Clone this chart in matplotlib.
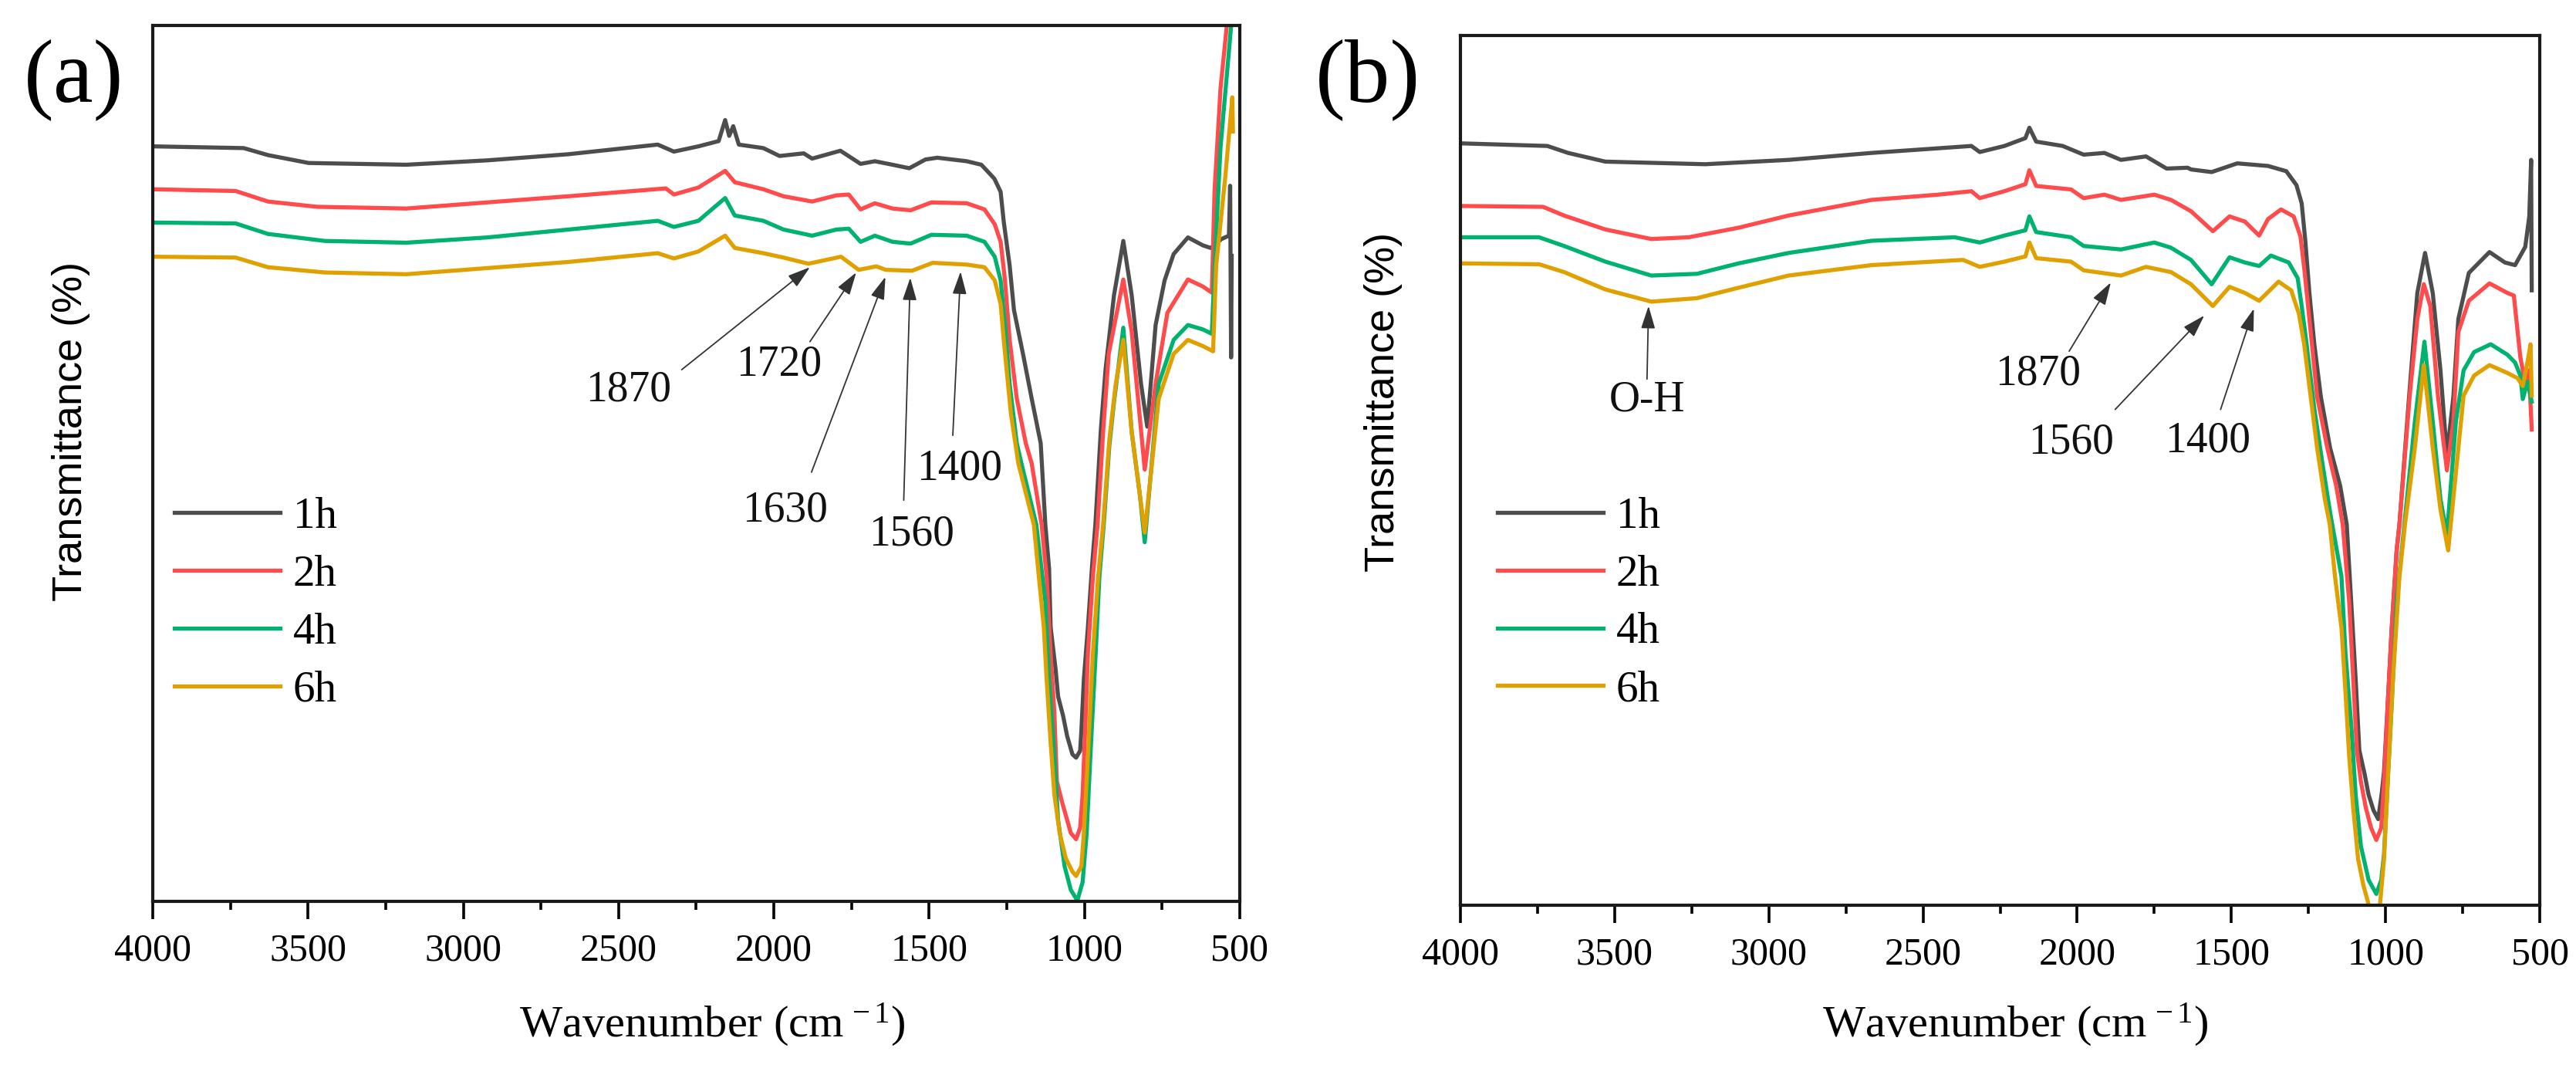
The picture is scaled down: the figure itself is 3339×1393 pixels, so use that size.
import matplotlib
matplotlib.use("Agg")
import matplotlib.pyplot as plt
from matplotlib.ticker import MultipleLocator

plt.rcParams['font.family'] = ['Liberation Serif', 'DejaVu Serif']
plt.rcParams['mathtext.fontset'] = 'custom'
plt.rcParams['mathtext.rm'] = 'Liberation Serif'
plt.rcParams['mathtext.it'] = 'Liberation Serif:italic'

# ---------------- data: panel (a) ----------------
a_1h_w = [4000, 3707, 3629, 3498, 3184, 2923, 2662, 2374, 2322, 2243, 2178, 2157, 2144, 2131, 2113,
          2034, 1982, 1904, 1877, 1786, 1721, 1675, 1618, 1564, 1512, 1474, 1379, 1332, 1290, 1270,
          1260, 1241, 1227, 1198, 1170, 1141, 1126, 1114, 1109, 1093, 1085, 1069, 1056, 1039, 1027,
          1014, 1010, 1002, 989, 975, 965, 947, 932, 905, 875, 848, 818, 798, 771, 742, 713, 667,
          619, 594, 581, 560, 535, 531, 528, 526]
a_1h_t = [86.2, 86.0, 85.2, 84.3, 84.1, 84.6, 85.3, 86.4, 85.6, 86.2, 86.8, 89.2, 87.4, 88.5, 86.4,
          86.0, 85.1, 85.4, 84.8, 85.7, 84.2, 84.5, 84.1, 83.7, 84.7, 84.9, 84.5, 84.1, 82.5, 81.0,
          77.6, 72.6, 67.5, 62.5, 57.4, 52.3, 43.0, 38.0, 31.3, 26.5, 23.4, 21.2, 18.9, 16.8, 16.4,
          17.2, 19.5, 25.4, 31.3, 38.6, 43.0, 54.0, 60.8, 69.2, 75.4, 69.2, 59.1, 54.2, 65.8, 70.9,
          73.9, 75.8, 74.9, 74.6, 74.9, 75.6, 76.0, 81.7, 62.1, 73.7]

a_2h_w = [4000, 3733, 3629, 3472, 3184, 2923, 2662, 2348, 2322, 2243, 2157, 2126, 2034, 1969, 1877,
          1799, 1759, 1721, 1675, 1618, 1560, 1493, 1379, 1322, 1289, 1270, 1256, 1241, 1218, 1189,
          1170, 1138, 1122, 1109, 1097, 1089, 1072, 1056, 1044, 1027, 1014, 1006, 998, 989, 973,
          958, 940, 922, 875, 848, 822, 806, 771, 733, 667, 619, 590, 581, 562, 542, 530]
a_2h_t = [81.3, 81.1, 79.9, 79.3, 79.1, 79.8, 80.5, 81.4, 80.7, 81.5, 83.4, 82.1, 81.3, 80.5, 79.9,
          80.6, 80.7, 79.0, 79.7, 79.1, 78.9, 79.8, 79.7, 79.0, 77.3, 75.3, 70.9, 64.1, 57.4, 52.3,
          50.0, 43.0, 37.1, 28.3, 21.6, 13.7, 11.3, 9.3, 7.8, 7.1, 8.4, 12.2, 19.5, 28.3, 37.1,
          43.0, 53.6, 62.5, 71.0, 65.0, 55.3, 49.3, 59.1, 67.2, 71.0, 70.2, 69.5, 81.3, 92.8, 99.9, 106.4]

a_4h_w = [4000, 3733, 3629, 3446, 3184, 2923, 2662, 2374, 2322, 2243, 2157, 2126, 2034, 1969, 1877,
          1799, 1759, 1721, 1675, 1618, 1560, 1493, 1379, 1322, 1289, 1270, 1256, 1241, 1218, 1203,
          1155, 1126, 1114, 1097, 1085, 1064, 1044, 1023, 1006, 993, 981, 964, 952, 938, 920, 905,
          875, 848, 822, 806, 761, 713, 667, 619, 590, 581, 562, 528, 522]
a_4h_t = [77.5, 77.4, 76.2, 75.4, 75.2, 75.8, 76.7, 77.7, 77.0, 77.7, 80.3, 78.3, 77.7, 76.7, 76.0,
          76.7, 76.8, 75.3, 76.0, 75.3, 75.1, 76.1, 76.0, 75.3, 73.6, 70.9, 65.8, 59.1, 52.3, 50.0,
          43.0, 34.2, 25.4, 16.6, 9.3, 4.0, 1.3, 0.1, 2.2, 7.8, 16.6, 28.3, 37.1, 43.0, 52.0, 57.0,
          65.5, 53.6, 46.5, 41.0, 59.1, 64.1, 65.8, 65.3, 64.8, 72.6, 86.1, 99.9, 105.6]

a_6h_w = [4000, 3733, 3629, 3446, 3184, 2923, 2662, 2374, 2322, 2243, 2157, 2126, 2034, 1969, 1889,
          1784, 1727, 1670, 1640, 1555, 1489, 1379, 1322, 1289, 1270, 1260, 1251, 1237, 1213, 1163,
          1147, 1131, 1122, 1109, 1097, 1080, 1060, 1039, 1027, 1010, 1002, 989, 973, 956, 940, 920,
          900, 875, 848, 822, 806, 761, 713, 667, 619, 586, 576, 547, 524, 522]
a_6h_t = [73.6, 73.5, 72.4, 71.8, 71.6, 72.3, 73.0, 74.0, 73.4, 74.2, 76.0, 74.6, 74.0, 73.5, 72.8,
          73.6, 72.1, 72.5, 72.1, 72.0, 72.9, 72.7, 72.4, 70.9, 68.2, 64.1, 60.8, 55.7, 50.0, 43.0,
          37.1, 31.3, 25.4, 18.1, 12.2, 7.8, 4.9, 3.4, 2.9, 4.0, 7.8, 16.6, 28.3, 37.1, 43.0, 52.7,
          58.9, 64.1, 53.6, 46.5, 42.1, 57.4, 62.5, 64.1, 63.4, 62.8, 72.6, 82.6, 91.8, 87.9]

# ---------------- data: panel (b) ----------------
b_1h_w = [3999, 3718, 3651, 3530, 3206, 2936, 2667, 2343, 2316, 2236, 2168, 2155, 2133, 2047, 1979,
          1912, 1858, 1777, 1710, 1642, 1631, 1564, 1481, 1381, 1322, 1289, 1272, 1260, 1247, 1231,
          1210, 1180, 1147, 1126, 1110, 1097, 1085, 1068, 1055, 1039, 1024, 1012, 1005, 993, 980,
          964, 955, 925, 897, 872, 847, 822, 801, 780, 764, 730, 663, 613, 580, 547, 534, 528, 526]
b_1h_t = [87.6, 87.3, 86.5, 85.5, 85.2, 85.7, 86.5, 87.3, 86.6, 87.3, 88.2, 89.4, 87.8, 87.3, 86.3,
          86.5, 85.7, 86.1, 84.7, 84.8, 84.6, 84.3, 85.3, 85.0, 84.4, 82.8, 80.7, 76.3, 70.4, 64.5,
          58.5, 52.6, 48.2, 43.8, 34.0, 26.0, 17.8, 15.1, 12.7, 10.9, 9.9, 13.0, 15.4, 23.1, 31.9,
          40.8, 43.8, 57.9, 70.4, 75.0, 70.4, 61.5, 51.7, 58.5, 67.4, 72.7, 75.1, 73.9, 73.6, 75.7,
          79.2, 85.7, 70.7]

b_2h_w = [3999, 3732, 3664, 3530, 3381, 3260, 3098, 2936, 2667, 2451, 2343, 2316, 2236, 2168, 2155,
          2133, 2020, 1979, 1912, 1858, 1750, 1696, 1631, 1560, 1506, 1456, 1410, 1381, 1339, 1298,
          1276, 1264, 1247, 1222, 1189, 1160, 1139, 1118, 1105, 1093, 1080, 1064, 1047, 1030, 1014,
          1005, 993, 980, 964, 955, 922, 897, 876, 855, 830, 801, 780, 764, 730, 663, 605, 584, 576,
          563, 547, 535, 526]
b_2h_t = [80.4, 80.3, 79.3, 77.7, 76.6, 76.8, 77.9, 79.3, 81.1, 81.7, 82.1, 81.3, 82.1, 82.9, 84.5,
          82.7, 82.3, 81.3, 81.7, 81.1, 81.7, 81.1, 79.8, 77.5, 79.2, 78.6, 77.0, 78.9, 80.0, 79.2,
          76.9, 73.3, 67.4, 58.5, 52.6, 48.2, 43.8, 34.9, 26.0, 17.8, 14.2, 11.2, 8.9, 7.5, 8.9,
          14.2, 23.1, 31.9, 40.8, 43.8, 58.5, 67.4, 71.4, 68.9, 58.5, 50.0, 55.6, 65.9, 69.5, 71.5,
          70.4, 70.1, 67.4, 63.0, 60.0, 61.5, 54.7]

b_4h_w = [3999, 3745, 3664, 3530, 3381, 3233, 3098, 2936, 2667, 2397, 2316, 2236, 2168, 2155, 2133,
          2020, 1979, 1858, 1750, 1696, 1631, 1564, 1506, 1456, 1410, 1372, 1314, 1285, 1272, 1256,
          1231, 1206, 1180, 1143, 1130, 1110, 1097, 1080, 1055, 1030, 1014, 1005, 993, 980, 964,
          939, 905, 874, 847, 822, 801, 772, 747, 713, 659, 605, 580, 563, 555, 540, 526]
b_4h_t = [76.8, 76.8, 75.8, 74.0, 72.4, 72.6, 73.8, 75.0, 76.4, 76.8, 76.2, 77.0, 77.6, 79.2, 77.4,
          76.8, 75.8, 75.4, 76.2, 75.6, 74.2, 71.4, 74.5, 73.9, 73.5, 74.7, 73.9, 72.1, 68.9, 64.5,
          57.1, 51.1, 45.2, 37.8, 29.0, 20.1, 12.7, 6.8, 2.9, 1.3, 2.9, 5.9, 14.2, 23.1, 34.9,
          43.8, 55.6, 64.8, 55.6, 46.7, 42.6, 55.6, 61.5, 63.6, 64.5, 63.3, 62.4, 60.9, 58.2, 60.2, 57.9]

b_6h_w = [3999, 3745, 3664, 3530, 3381, 3233, 3098, 2936, 2667, 2370, 2316, 2236, 2168, 2155, 2133,
          2020, 1979, 1858, 1777, 1696, 1631, 1560, 1506, 1456, 1410, 1347, 1306, 1281, 1264, 1243,
          1222, 1197, 1181, 1164, 1143, 1130, 1118, 1105, 1089, 1072, 1055, 1045, 1028, 1018, 1005,
          993, 976, 955, 937, 905, 876, 847, 822, 797, 772, 747, 713, 663, 605, 572, 555, 540, 530, 526]
b_6h_t = [73.8, 73.7, 72.8, 70.8, 69.4, 69.8, 71.0, 72.4, 73.6, 74.2, 73.4, 74.0, 74.6, 76.2, 74.4,
          74.0, 73.0, 72.4, 73.4, 72.8, 71.4, 68.9, 71.1, 70.4, 69.5, 71.7, 70.7, 68.0, 64.5, 58.5,
          52.6, 46.7, 43.8, 37.8, 31.9, 24.5, 17.1, 11.2, 5.3, 2.3, 0.1, -0.6, -0.6, 0.1, 5.3,
          14.2, 26.0, 37.8, 43.8, 52.6, 62.1, 52.6, 45.5, 40.8, 49.7, 58.6, 60.9, 62.1, 61.2, 60.6,
          59.7, 62.4, 64.5, 58.6]

series_labels = ['1h', '2h', '4h', '6h']
series_colors = ['#4D4D4D', '#FF4B4B', '#00B270', '#E0A100']

# annotations: label, tip (wavenumber, T), arrow start, text position
a_ann_labels = ['1870', '1720', '1630', '1560', '1400']
a_ann_tip = [(1884, 72.4), (1735, 71.8), (1641, 71.3), (1561, 71.2), (1399, 71.9)]
a_ann_start = [(2297, 60.7), (1884, 63.9), (1879, 49.0), (1582, 45.8), (1424, 53.2)]
a_ann_text = [(2468, 58.4), (1983, 61.3), (1964, 44.6), (1556, 41.9), (1403, 49.4)]

b_ann_labels = ['O-H', '1870', '1560', '1400']
b_ann_tip = [(3390, 68.9), (1891, 71.6), (1588, 67.8), (1427, 68.6)]
b_ann_start = [(3395, 60.5), (2026, 63.7), (1877, 57.0), (1535, 57.0)]
b_ann_text = [(3395, 58.1), (2128, 61.1), (2020, 53.2), (1576, 53.4)]

xticks = [4000, 3500, 3000, 2500, 2000, 1500, 1000, 500]

fig = plt.figure(figsize=(33.39, 13.93), dpi=100)
ax_a = fig.add_axes([0.05930, 0.16152, 0.42198, 0.81479])
ax_b = fig.add_axes([0.56694, 0.15793, 0.41899, 0.80904])


def draw_panel(ax, curves, ann_labels, ann_tip, ann_start, ann_text, legend_anchor,
               ylabel_xy, xlabel_xy):
    for (w, t), lab, col in zip(curves, series_labels, series_colors):
        ax.plot(w, t, color=col, lw=3.8, label=lab, solid_joinstyle='round')
    ax.set_xlim(4000, 500)
    ax.set_ylim(0, 100)
    ax.set_xticks(xticks)
    ax.set_xticklabels([str(v) for v in xticks])
    ax.xaxis.set_minor_locator(MultipleLocator(250))
    ax.set_yticks([])
    ax.tick_params(axis='x', which='major', direction='out', length=16.5, width=2.6,
                   labelsize=36, pad=13)
    ax.tick_params(axis='x', which='minor', direction='out', length=8, width=2.6)
    for sp in ax.spines.values():
        sp.set_linewidth(3.0)
        sp.set_color('#1a1a1a')
    ax.set_xlabel('Wavenumber (cm$^{\\,-1}$)', fontsize=42, va='center')
    ax.xaxis.set_label_coords(*xlabel_xy)
    ax.set_ylabel('Transmittance (%)', fontsize=39, family=['Liberation Sans', 'DejaVu Sans'],
                  va='center')
    ax.yaxis.set_label_coords(*ylabel_xy)
    for lab, tip, st, tx in zip(ann_labels, ann_tip, ann_start, ann_text):
        ax.annotate('', xy=tip, xytext=st,
                    arrowprops=dict(arrowstyle='-|>,head_length=0.9,head_width=0.28',
                                    mutation_scale=20, lw=1.3, color='#333333',
                                    shrinkA=0, shrinkB=0))
        ax.text(tx[0], tx[1], lab, fontsize=40, ha='center', va='center', color='#111111')
    leg = ax.legend(loc='upper left', bbox_to_anchor=legend_anchor, frameon=False, fontsize=41,
                    handlelength=2.4, handletextpad=0.3, labelspacing=0.40, borderaxespad=0,
                    borderpad=0)
    for line in leg.get_lines():
        line.set_linewidth(3.8)


draw_panel(ax_a,
           [(a_1h_w, a_1h_t), (a_2h_w, a_2h_t), (a_4h_w, a_4h_t), (a_6h_w, a_6h_t)],
           a_ann_labels, a_ann_tip, a_ann_start, a_ann_text,
           legend_anchor=(0.0199, 0.4615), ylabel_xy=(-0.075, 0.537), xlabel_xy=(0.515, -0.141))
draw_panel(ax_b,
           [(b_1h_w, b_1h_t), (b_2h_w, b_2h_t), (b_4h_w, b_4h_t), (b_6h_w, b_6h_t)],
           b_ann_labels, b_ann_tip, b_ann_start, b_ann_text,
           legend_anchor=(0.0343, 0.4695), ylabel_xy=(-0.0715, 0.579), xlabel_xy=(0.514, -0.137))

fig.text(0.0285, 0.926, '(a)', fontsize=84, ha='center', va='center')
fig.text(0.531, 0.926, '(b)', fontsize=84, ha='center', va='center')

fig.savefig('out.png', dpi=100)
